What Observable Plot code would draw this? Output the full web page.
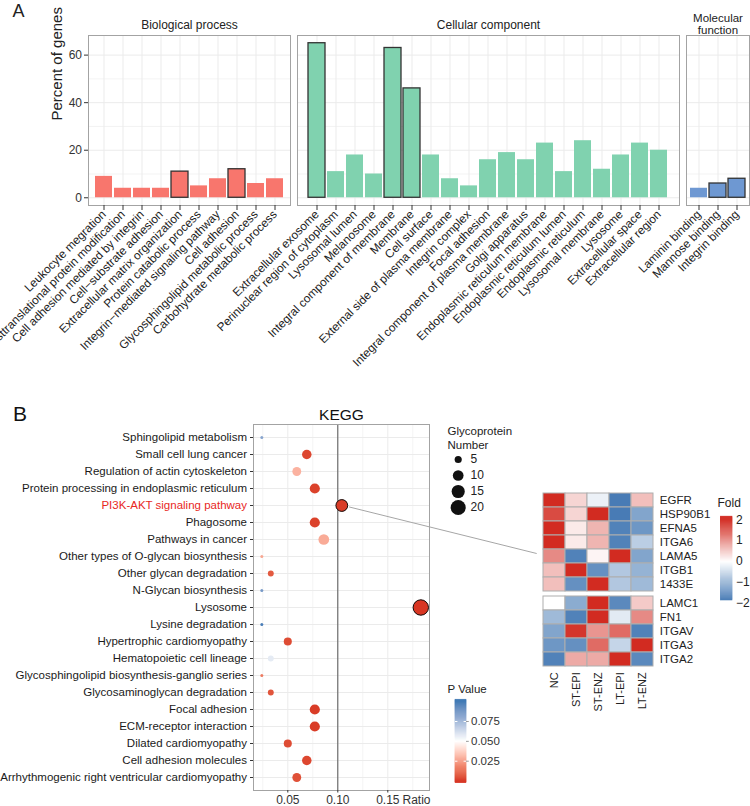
<!DOCTYPE html>
<html><head><meta charset="utf-8">
<script src="https://cdn.jsdelivr.net/npm/d3@7"></script>
<script src="https://cdn.jsdelivr.net/npm/@observablehq/plot@0.6"></script>
<style>
body{margin:0;background:#fff;}
#root{position:relative;width:750px;height:806px;overflow:hidden;background:#fff;}
</style></head><body><div id="root"></div>
<script>
// ---------- DATA: panel A (GO terms) ----------
const bpTerms = ["Leukocyte megration","Posttranslational protein modification","Cell adhesion mediated by integrin","Cell\u2212substrate adhesion","Extracellular matrix organization","Protein catabolic process","Integrin\u2212mediated signaling pathway","Cell adhesion","Glycosphingolipid metabolic process","Carbohydrate metabolic process"];
const bpValues = [9,4,4,4,11,5,8,12,6,8];
const ccTerms = ["Extracellular exosome","Perinuclear region of cytoplasm","Lysosomal lumen","Melanosome","Integral component of membrane","Membrane","Cell surface","External side of plasma membrane","Integrin complex","Focal adhesion","Integral component of plasma membrane","Golgi apparatus","Endoplasmic reticulum membrane","Endoplasmic reticulum lumen","Endoplasmic reticulum","Lysosomal membrane","Lysosome","Extracellular space","Extracellular region"];
const ccValues = [65,11,18,10,63,46,18,8,5,16,19,16,23,11,24,12,18,23,20];
const mfTerms = ["Laminin binding","Mannose binding","Integrin binding"];
const mfValues = [4,6,8];
const highlightedTerms = ["Extracellular matrix organization","Cell adhesion","Extracellular exosome","Integral component of membrane","Membrane","Mannose binding","Integrin binding"];
const facetTitles = ["Biological process","Cellular component","Molecular\nfunction"];
const facetColors = ["#F8766D","#80D2AF","#6E98D2"];
const yTicksA = [0,20,40,60];
const yMinorA = [10,30,50];

// ---------- DATA: panel B (KEGG) ----------
const pathways = ["Sphingolipid metabolism","Small cell lung cancer","Regulation of actin cytoskeleton","Protein processing in endoplasmic reticulum","PI3K-AKT signaling pathway","Phagosome","Pathways in cancer","Other types of O-glycan biosynthesis","Other glycan degradation","N-Glycan biosynthesis","Lysosome","Lysine degradation","Hypertrophic cardiomyopathy","Hematopoietic cell lineage","Glycosphingolipid biosynthesis-ganglio series","Glycosaminoglycan degradation","Focal adhesion","ECM-receptor interaction","Dilated cardiomyopathy","Cell adhesion molecules","Arrhythmogenic right ventricular cardiomyopathy"];
const ratios = [0.024,0.069,0.059,0.077,0.104,0.077,0.086,0.024,0.033,0.024,0.183,0.024,0.050,0.033,0.024,0.033,0.077,0.077,0.050,0.069,0.059];
const counts = [3,8,7,9,12,9,10,3,4,3,21,3,6,4,3,4,9,9,6,8,7];
const pValues = [0.082,0.004,0.030,0.003,0.002,0.003,0.028,0.027,0.008,0.086,0.001,0.097,0.005,0.057,0.016,0.007,0.002,0.002,0.005,0.004,0.006];
const highlightedPathways = ["PI3K-AKT signaling pathway","Lysosome"];
const redLabel = "PI3K-AKT signaling pathway";
const xTicksB = [0.05,0.10,0.15];
const xMinorB = [0.025,0.075,0.125,0.175];
const refRatio = [0.10];
const sizeKeys = [5,10,15,20];
const pTicks = [0.025,0.050,0.075];

// ---------- DATA: heatmap ----------
const samples = ["NC","ST-EPI","ST-ENZ","LT-EPI","LT-ENZ"];
const genesG1 = ["EGFR","HSP90B1","EFNA5","ITGA6","LAMA5","ITGB1","1433E"];
const foldG1 = [
  [2.0, 0.4,-0.2,-1.9, 0.6],
  [1.7, 0.4, 2.0,-1.9,-1.3],
  [2.0, 0.2, 0.7,-1.8,-1.5],
  [2.0, 0.2, 0.7,-1.8,-0.7],
  [1.1,-1.8, 0.1, 2.0,-1.3],
  [0.6, 2.0,-1.6,-0.8,-1.1],
  [0.6,-1.6, 2.0,-0.8,-1.0]
];
const genesG2 = ["LAMC1","FN1","ITGAV","ITGA3","ITGA2"];
const foldG2 = [
  [0.0,-1.2, 2.0,-1.7, 0.5],
  [-1.0,-1.8, 2.0,-0.3, 1.1],
  [-1.3, 1.9, 1.0, 1.4,-1.8],
  [-1.5,-1.6, 1.4,-0.6, 2.0],
  [-1.8, 0.8, 0.8, 2.0,-1.7]
];
const foldTicks = [2,1,0,-1,-2];

// ---------- helpers ----------
const FONT = '"Liberation Sans", Arial, Helvetica, sans-serif';
const root = document.getElementById("root");
const baseStyle = {background:"transparent", overflow:"visible", fontFamily:FONT, color:"#222"};
function place(el, left, top){
  el.style.position = "absolute"; el.style.left = left + "px"; el.style.top = top + "px";
  root.appendChild(el); return el;
}
const GRID = "#EBEBEB", BORDER = "#A3A3A3";

// ---------- Panel A ----------
function goPanel(terms, values, color, title, o){
  const data = terms.map((t,i)=>({term:t, value:values[i], hl: highlightedTerms.includes(t)}));
  const multi = title.includes("\n");
  return Plot.plot({
    width:o.width, height:360, marginLeft:o.ml, marginRight:o.mr, marginTop:35, marginBottom:155,
    style: baseStyle,
    x:{type:"band", domain:terms, paddingInner:0.1, paddingOuter:0.15, label:null},
    y:{domain:[-3.25,68.25], label:null, axis: o.yAxis ? undefined : null},
    marks:[
      Plot.ruleY(yMinorA, {stroke:GRID, strokeWidth:0.6}),
      Plot.ruleY(yTicksA, {stroke:GRID, strokeWidth:1}),
      Plot.gridX({stroke:GRID, strokeOpacity:1, strokeWidth:1}),
      Plot.barY(data, {x:"term", y:"value", fill:color}),
      Plot.barY(data.filter(d=>d.hl), {x:"term", y:"value", fill:color, stroke:"#333", strokeWidth:1.3}),
      Plot.frame({stroke:BORDER}),
      Plot.axisX({tickSize:5, tickPadding:2, tickRotate:-45, fontSize:11.8, color:"#222", stroke:"#333"}),
      o.yAxis ? Plot.axisY({ticks:yTicksA, tickSize:4, tickPadding:2.5, fontSize:12, color:"#333", label:null}) : null,
      o.yAxis ? Plot.text(["Percent of genes"], {frameAnchor:"left", rotate:-90, dx:-31.8, fontSize:15, fill:"#222"}) : null,
      Plot.text([title], {frameAnchor:"top", lineAnchor:"top", dy: multi ? -21.2 : -14.8, fontSize: multi ? 11.5 : 12, lineHeight:1.0, fill:"#222"})
    ]
  });
}
place(goPanel(bpTerms, bpValues, facetColors[0], facetTitles[0], {width:292, ml:88, mr:2, yAxis:true}), 0, 0);
place(goPanel(ccTerms, ccValues, facetColors[1], facetTitles[1], {width:750, ml:297, mr:71, yAxis:false}), 0, 0);
place(goPanel(mfTerms, mfValues, facetColors[2], facetTitles[2], {width:750, ml:686, mr:1, yAxis:false}), 0, 0);

// ---------- Panel B: KEGG dot plot ----------
const kegg = pathways.map((p,i)=>({pathway:p, ratio:ratios[i], count:counts[i], p:pValues[i]}));
const rOpts = {type:"sqrt", transform: n => Math.max(0, n - 3), domain:[0,18], range:[1.5,7.7]};
const pColor = {type:"linear", domain:[0,0.05,0.1], range:["#D6301F","#FFFFFF","#3B76B3"], interpolate:"lab", clamp:true};

const dotPlot = Plot.plot({
  width:440, height:416, marginLeft:253, marginRight:11, marginTop:34, marginBottom:16,
  style: baseStyle,
  x:{domain:[0.0157,0.1917], label:null},
  y:{type:"point", domain:pathways, padding:0.6, label:null},
  r: rOpts,
  color: pColor,
  marks:[
    Plot.ruleX(xMinorB, {stroke:GRID, strokeWidth:0.6}),
    Plot.ruleX(xTicksB, {stroke:GRID, strokeWidth:1}),
    Plot.gridY({stroke:GRID, strokeOpacity:1, strokeWidth:1}),
    Plot.ruleX(refRatio, {stroke:"#555", strokeWidth:1}),
    Plot.dot(kegg, {x:"ratio", y:"pathway", r:"count", fill:"p"}),
    Plot.dot(kegg.filter(d=>highlightedPathways.includes(d.pathway)), {x:"ratio", y:"pathway", r:"count", fill:"p", stroke:"#111", strokeWidth:1}),
    Plot.frame({stroke:BORDER}),
    Plot.axisX({ticks:xTicksB, tickFormat:d3.format(".2f"), tickSize:2.5, tickPadding:2, fontSize:12, color:"#333", label:null}),
    Plot.text(["Ratio"], {frameAnchor:"bottom-right", textAnchor:"end", lineAnchor:"top", dy:4.5, dx:1, fontSize:12, fill:"#333"}),
    Plot.axisY({tickSize:3, tickFormat:()=>"", color:"#333", label:null}),
    Plot.text(pathways.filter(p=>p!==redLabel), {y:d=>d, text:d=>d, frameAnchor:"left", textAnchor:"end", dx:-6.5, fontSize:11.5, fill:"#1a1a1a"}),
    Plot.text([redLabel], {y:d=>d, text:d=>d, frameAnchor:"left", textAnchor:"end", dx:-6.5, fontSize:11.5, fill:"#E8281E"}),
    Plot.text(["KEGG"], {frameAnchor:"top", lineAnchor:"top", dy:-16, fontSize:15.5, fill:"#111"})
  ]
});
place(dotPlot, 0, 390);

// size legend
const sizeLegend = Plot.plot({
  width:70, height:100, marginLeft:17.7, marginRight:30, marginTop:38, marginBottom:12,
  style: baseStyle,
  x:{domain:[0,1], axis:null},
  y:{type:"point", domain:sizeKeys, padding:0, axis:null},
  r: rOpts,
  marks:[
    Plot.dot(sizeKeys, {x:()=>0, y:d=>d, r:d=>d, fill:"#111"}),
    Plot.text(sizeKeys, {x:()=>0, y:d=>d, text:d=>String(d), dx:12.3, textAnchor:"start", fontSize:12, fill:"#222"}),
    Plot.text(["Glycoprotein\nNumber"], {frameAnchor:"top-left", textAnchor:"start", lineAnchor:"top", dx:-10.7, dy:-33.2, fontSize:11.5, lineHeight:1.22, fill:"#222"})
  ]
});
place(sizeLegend, 440, 420);

// P value legend
const pLo = -0.0027, pHi = 0.1024, nSlices = 80, pStep = (pHi - pLo)/nSlices;
const pRamp = d3.range(nSlices).map(i => pLo + i*pStep);
const pLegend = Plot.plot({
  width:80, height:126, marginLeft:15, marginRight:54, marginTop:21.15, marginBottom:25.45,
  style: baseStyle,
  x:{domain:[0,1], axis:null},
  y:{domain:[0,0.1], axis:null},
  color: pColor,
  marks:[
    Plot.rect(pRamp, {x1:0, x2:1, y1:d=>d, y2:d=>d+pStep, fill:d=>d+pStep/2, stroke:d=>d+pStep/2, strokeWidth:0.6}),
    Plot.ruleY(pTicks, {x1:0, x2:0.22, stroke:"white", strokeWidth:1}),
    Plot.ruleY(pTicks, {x1:0.78, x2:1, stroke:"white", strokeWidth:1}),
    Plot.ruleY(pTicks, {x1:1, x2:1.25, stroke:"#999", strokeWidth:1}),
    Plot.text(pTicks, {x:()=>1, y:d=>d, text:d=>d3.format(".3f")(d), dx:4.5, textAnchor:"start", fontSize:11.5, fill:"#333"}),
    Plot.text(["P Value"], {frameAnchor:"top-left", textAnchor:"start", lineAnchor:"top", dx:-8, dy:-16.35, fontSize:11.5, fill:"#222"})
  ]
});
place(pLegend, 440, 680);

// ---------- Heatmap ----------
const foldColor = {type:"linear", domain:[-2,0,2], range:["#3E74B1","#FFFFFF","#D22B21"], interpolate:"rgb", clamp:true};
function heat(genes, fold, o){
  const cells = genes.flatMap((g,i)=>samples.map((s,j)=>({gene:g, sample:s, v:fold[i][j]})));
  const rows = genes.length;
  return Plot.plot({
    width:250, height:o.height, marginLeft:42, marginRight:96, marginTop:o.mt, marginBottom:o.height - o.mt - rows*o.rowH,
    style: baseStyle,
    x:{type:"band", domain:samples, padding:0, label:null, axis:null},
    y:{type:"band", domain:genes, padding:0, label:null},
    color: foldColor,
    marks:[
      Plot.cell(cells, {x:"sample", y:"gene", fill:"v", inset:0, stroke:"#AEAEAE", strokeWidth:1}),
      Plot.axisY({anchor:"right", tickSize:0, tickPadding:5.3, fontSize:11.5, color:"#222", label:null}),
      o.xAxis ? Plot.axisX({tickSize:0, tickPadding:5, tickRotate:-90, fontSize:11, color:"#222", label:null}) : null
    ]
  });
}
const hm1 = place(heat(genesG1, foldG1, {height:120, mt:11.7, rowH:14.3, xAxis:false}), 500, 480);
const hm2 = place(heat(genesG2, foldG2, {height:130, mt:6, rowH:14.15, xAxis:true}), 500, 590);

// Fold legend
const fLo = -1.87, fHi = 2.15, fN = 80, fStep = (fHi - fLo)/fN;
const fRamp = d3.range(fN).map(i => fLo + i*fStep);
const foldLegend = Plot.plot({
  width:50, height:125, marginLeft:20.5, marginRight:18, marginTop:29.3, marginBottom:12.3,
  style: baseStyle,
  x:{domain:[0,1], axis:null},
  y:{domain:[-2,2], axis:null},
  color: foldColor,
  marks:[
    Plot.rect(fRamp, {x1:0, x2:1, y1:d=>d, y2:d=>d+fStep, fill:d=>d+fStep/2, stroke:d=>d+fStep/2, strokeWidth:0.6}),
    Plot.text(foldTicks, {x:()=>1, y:d=>d, text:d=>d3.format("d")(d).replace("-","\u2212"), dx:3.5, textAnchor:"start", fontSize:12, fill:"#222"}),
    Plot.text(["Fold"], {frameAnchor:"top-left", textAnchor:"start", lineAnchor:"top", dx:-3.5, dy:-21.8, fontSize:12, fill:"#222"})
  ]
});
place(foldLegend, 700, 490);

// ---------- overlay: panel letters + leader line ----------
const ov = d3.create("svg").attr("width",750).attr("height",806)
  .style("position","absolute").style("left","0px").style("top","0px").style("pointer-events","none")
  .style("font-family", FONT);
{
  const pi = kegg.find(d=>d.pathway===redLabel);
  const cx = dotPlot.scale("x").apply(pi.ratio);
  const cy = 390 + dotPlot.scale("y").apply(pi.pathway);
  const rr = dotPlot.scale("r").apply(pi.count);
  const ex = 500 + 42 - 5.3;
  const ey = 480 + hm1.scale("y").apply("LAMA5") + 4.5;
  const L = Math.hypot(ex - cx, ey - cy), ux = (ex - cx)/L, uy = (ey - cy)/L;
  ov.append("line").attr("x1", cx + ux*(rr+1.5)).attr("y1", cy + uy*(rr+1.5)).attr("x2", ex).attr("y2", ey)
    .attr("stroke","#A6A6A6").attr("stroke-width",1);
  ov.append("text").attr("x",12.5).attr("y",16.7).attr("font-size",18).attr("fill","#222").text("A");
  ov.append("text").attr("x",13).attr("y",420.7).attr("font-size",21).attr("fill","#111").text("B");
}
root.appendChild(ov.node());
</script></body></html>
